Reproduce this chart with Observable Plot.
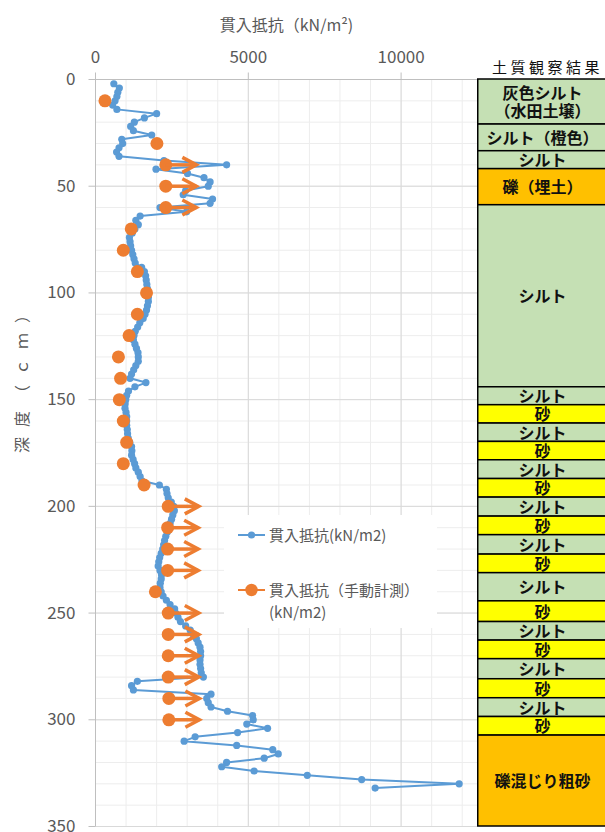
<!DOCTYPE html>
<html><head><meta charset="utf-8">
<script src="https://cdn.jsdelivr.net/npm/d3@7"></script>
<script src="https://cdn.jsdelivr.net/npm/@observablehq/plot@0.6"></script>
<style>
body{margin:0;background:#fff;}
#wrap{position:relative;width:605px;height:832px;overflow:hidden;background:#fff;font-family:"Noto Sans CJK JP",sans-serif;}
#wrap svg{position:absolute;top:0;}
#legend{position:absolute;left:224px;top:515px;width:213px;height:113px;background:#fff;color:#595959;font-size:15px;}
#legend .item{position:absolute;left:14px;}
#legend .lbl{position:absolute;left:31px;white-space:nowrap;line-height:22px;}
</style></head><body><div id="wrap"></div>
<script>
// ---- data ----
const blueDepth = [2,4,6,8,10,12,14,16,18,20,22,24,26,28,30,32,34,36,38,40,42,44,46,48,50,52,54,56,58,60,62,64,66,68,70,72,74,76,78,80,82,84,86,88,90,92,94,96,98,100,102,104,106,108,110,112,114,116,118,120,122,124,126,128,130,132,134,136,138,140,142,144,146,148,150,152,154,156,158,160,162,164,166,168,170,172,174,176,178,180,182,184,186,188,190,192,194,196,198,200,202,204,206,208,210,212,214,216,218,220,222,224,226,228,230,232,234,236,238,240,242,244,246,248,250,252,254,256,258,260,262,264,266,268,270,272,274,276,278,280,282,284,286,288,290,292,294,296,298,300,302,304,306,308,310,312,314,316,318,320,322,324,326,328,330,332];
const blueValue = [600,780,730,700,640,560,700,2000,1600,1270,1150,1240,1840,860,890,770,690,770,2240,4290,1980,3010,3550,3750,3690,2950,2870,3830,3750,2110,2980,1460,1320,1400,1290,1200,1110,1130,1150,1180,1220,1260,1300,1510,1600,1640,1660,1680,1700,1730,1730,1730,1700,1670,1620,1560,1450,1380,1300,1260,1240,1290,1340,1390,1400,1400,1320,1250,1180,1130,1650,1290,1080,1020,990,970,965,1000,1020,1020,1020,1040,1050,1070,1120,1180,1190,1180,1230,1280,1320,1400,1460,1520,2090,2320,2340,2380,2480,2560,2580,2530,2490,2440,2390,2350,2300,2260,2230,2200,2150,2100,2070,2050,2110,2160,2150,2120,2110,2150,2210,2320,2440,2590,2620,2700,2780,2950,3100,3200,3300,3360,3420,3440,3440,3420,3420,3440,3460,3530,1370,1180,1240,3780,3640,3690,3780,4320,5140,5160,4950,5630,4650,3260,2900,4620,5800,5980,5520,4290,4130,5190,6930,8710,11900,9150];

const manualDepth = [10,30,40,50,60,70,80,90,100,110,120,130,140,150,160,170,180,190,200,210,220,230,240,250,260,270,280,290,300];
const manualValue = [310,2010,2300,2300,2300,1170,910,1370,1670,1370,1100,750,820,780,910,1020,910,1590,2380,2360,2360,2360,1960,2380,2380,2380,2380,2400,2400];
const overLimitDepth = [40,50,60,200,210,220,230,250,260,270,280,290,300];

const layerTop    = [0,21.1,33.6,42,58.9,144.2,152.6,161.2,169.8,178.4,187.2,195.9,204.8,213.5,222.6,231.3,244.5,254.2,262.9,271.6,281.0,289.9,298.7,307.4];
const layerBottom = [21.1,33.6,42,58.9,144.2,152.6,161.2,169.8,178.4,187.2,195.9,204.8,213.5,222.6,231.3,244.5,254.2,262.9,271.6,281.0,289.9,298.7,307.4,350];
const layerName = ["灰色シルト\n（水田土壌）","シルト（橙色）","シルト","礫（埋土）","シルト","シルト","砂","シルト","砂","シルト","砂","シルト","砂","シルト","砂","シルト","砂","シルト","砂","シルト","砂","シルト","砂","礫混じり粗砂"];
const layerColor = ["#C5E0B4","#C5E0B4","#C5E0B4","#FFC000","#C5E0B4","#C5E0B4","#FFFF00","#C5E0B4","#FFFF00","#C5E0B4","#FFFF00","#C5E0B4","#FFFF00","#C5E0B4","#FFFF00","#C5E0B4","#FFFF00","#C5E0B4","#FFFF00","#C5E0B4","#FFFF00","#C5E0B4","#FFFF00","#FFC000"];

const xTicks = [0,5000,10000];
const xGrid = [1000,2000,3000,4000,5000,6000,7000,8000,9000,10000,11000,12000];
const xMajor = [5000,10000];
const yTicks = [0,50,100,150,200,250,300,350];
const yGrid = [10,20,30,40,50,60,70,80,90,100,110,120,130,140,150,160,170,180,190,200,210,220,230,240,250,260,270,280,290,300,310,320,330,340,350];
const yMajor = [50,100,150,200,250,300,350];

const xTitle = "貫入抵抗（kN/m²)";
const yTitle = "深度（ｃｍ）";
const colTitle = "土質観察結果";
const legendLabels = ["貫入抵抗(kN/m2)", "貫入抵抗（手動計測）\n(kN/m2)"];

// ---- tables ----
const blue = blueDepth.map((d,i)=>({d, v: blueValue[i]}));
const manual = manualDepth.map((d,i)=>({d, v: manualValue[i]}));
const over = manual.filter(m => overLimitDepth.includes(m.d));
const layers = layerTop.map((t,i)=>({top:t, bottom:layerBottom[i], name:layerName[i], color:layerColor[i]}));

const BLUE = "#5B9BD5", ORANGE = "#ED7D31", AX = "#BFBFBF", TXT = "#595959";
const FONT = "'Noto Sans CJK JP', sans-serif";
const ARROW_LEN = 1000;

const chevron = {draw(ctx){ ctx.moveTo(-14,-7.5); ctx.lineTo(0,0); ctx.lineTo(-14,7.5); }};
const tickUp = {draw(ctx){ ctx.moveTo(0,0); ctx.lineTo(0,-7); }};
const tickLeft = {draw(ctx){ ctx.moveTo(0,0); ctx.lineTo(-7,0); }};

const main = Plot.plot({
  width: 605, height: 832,
  marginTop: 79, marginBottom: 6, marginLeft: 95, marginRight: 128,
  x: {domain: [0, 12500], axis: null},
  y: {domain: [0, 350], reverse: true, axis: null},
  style: {fontFamily: FONT, background: "transparent", overflow: "visible"},
  marks: [
    Plot.ruleX(xGrid, {stroke: "#EDEDED"}),
    Plot.ruleY(yGrid, {stroke: "#EDEDED"}),
    Plot.ruleX(xMajor, {stroke: "#D9D9D9"}),
    Plot.ruleY(yMajor, {stroke: "#D9D9D9"}),
    Plot.ruleX([0], {stroke: AX}),
    Plot.ruleY([0], {stroke: AX}),
    Plot.dot(xTicks, {x: d=>d, frameAnchor: "top", symbol: tickUp, stroke: AX, fill: "none", strokeWidth: 1}),
    Plot.dot(yTicks, {y: d=>d, frameAnchor: "left", symbol: tickLeft, stroke: AX, fill: "none", strokeWidth: 1}),
    Plot.text(xTicks, {x: d=>d, text: d=>String(d), frameAnchor: "top", dy: -29, fontSize: 17, fill: TXT}),
    Plot.text(yTicks, {y: d=>d, text: d=>String(d), frameAnchor: "left", dx: -20, textAnchor: "end", fontSize: 17, fill: TXT}),
    Plot.text([xTitle], {frameAnchor: "top", dy: -60, fontSize: 16, fill: TXT}),
    Plot.text([yTitle], {frameAnchor: "left", dx: -73, rotate: -90, fontSize: 16, fill: TXT}),
    Plot.line(blue, {x: "v", y: "d", stroke: BLUE, strokeWidth: 2}),
    Plot.dot(blue, {x: "v", y: "d", r: 3.6, fill: BLUE}),
    Plot.dot(manual, {x: "v", y: "d", r: 6.5, fill: ORANGE}),
    Plot.link(over, {x1: "v", x2: d => d.v + ARROW_LEN, y1: "d", y2: "d", stroke: ORANGE, strokeWidth: 3.5}),
    Plot.dot(over, {x: d => d.v + ARROW_LEN, y: "d", symbol: chevron, stroke: ORANGE, fill: "none", strokeWidth: 3.5})
  ]
});
// letter spacing for the vertical axis title
d3.select(main).selectAll("text").filter(function(){ return this.textContent === yTitle; }).style("letter-spacing", "10px");

const col = Plot.plot({
  width: 130, height: 832,
  marginTop: 79, marginBottom: 6, marginLeft: 0, marginRight: 0,
  y: {domain: [0, 350], reverse: true, axis: null},
  color: {type: "identity"},
  style: {fontFamily: FONT, background: "transparent", overflow: "visible"},
  marks: [
    Plot.rect(layers, {y1: "top", y2: "bottom", fill: "color", stroke: "#000", strokeWidth: 1.5, insetLeft: 0.75}),
    Plot.text(layers, {y: d => (d.top + d.bottom) / 2, text: "name", fontSize: 16, fontWeight: "bold", fill: "#111", lineHeight: 1.15}),
    Plot.text([colTitle], {frameAnchor: "top", dy: -17, dx: 5, fontSize: 15, fill: "#111"})
  ]
});
d3.select(col).selectAll("text").filter(function(){ return this.textContent === colTitle; }).style("letter-spacing", "3.5px");

const wrap = document.getElementById("wrap");
main.style.left = "0px";
wrap.appendChild(main);

// legend
const leg = document.createElement("div");
leg.id = "legend";
const swatches = [{color: BLUE, r: 3.6, y: 20}, {color: ORANGE, r: 6.2, y: 75}];
legendLabels.forEach((lab, i) => {
  const s = swatches[i];
  const item = document.createElement("div");
  item.className = "item";
  item.style.top = (s.y - 11) + "px";
  item.innerHTML = `<svg width="30" height="22" style="position:absolute;left:0;top:0"><line x1="0" x2="27" y1="11" y2="11" stroke="${s.color}" stroke-width="2"/><circle cx="13.5" cy="11" r="${s.r}" fill="${s.color}"/></svg>`;
  const t = document.createElement("div");
  t.className = "lbl";
  t.innerHTML = lab.split("\n").join("<br>");
  item.appendChild(t);
  leg.appendChild(item);
});
wrap.appendChild(leg);

col.style.left = "476.5px";
wrap.appendChild(col);
</script>
</body></html>
